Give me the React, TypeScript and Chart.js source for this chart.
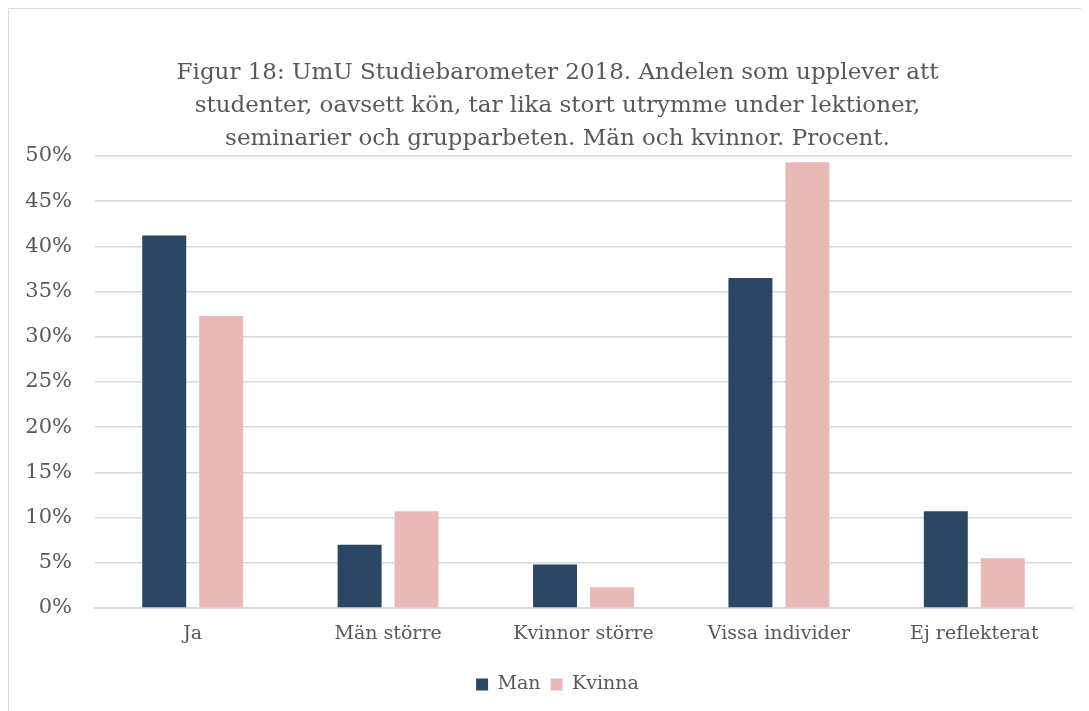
import React, { useEffect, useRef } from "react";
import { Chart, registerables } from "chart.js";

Chart.register(...registerables);

const categories = ["Ja", "Män större", "Kvinnor större", "Vissa individer", "Ej reflekterat"];
const manValues = [41.2, 7.0, 4.8, 36.5, 10.7];
const kvinnaValues = [32.3, 10.7, 2.3, 49.3, 5.5];
const titleLines = [
  "Figur 18: UmU Studiebarometer 2018. Andelen som upplever att",
  "studenter, oavsett kön, tar lika stort utrymme under lektioner,",
  "seminarier och grupparbeten. Män och kvinnor. Procent.",
];

const FONT = "'DejaVu Serif', 'Liberation Serif', serif";
const TEXT = "#595959";

export default function App() {
  const ref = useRef<HTMLCanvasElement | null>(null);

  useEffect(() => {
    document.body.style.overflow = "hidden";
    document.documentElement.style.overflow = "hidden";
    if (!ref.current) return;
    const chart = new Chart(ref.current, {
      type: "bar",
      data: {
        labels: categories,
        datasets: [
          {
            label: "Man",
            data: manValues,
            backgroundColor: "#2B4764",
            borderWidth: 0,
            categoryPercentage: 0.583,
            barPercentage: 0.772,
          },
          {
            label: "Kvinna",
            data: kvinnaValues,
            backgroundColor: "#E9B9B8",
            borderWidth: 0,
            categoryPercentage: 0.583,
            barPercentage: 0.772,
          },
        ],
      },
      options: {
        animation: false,
        responsive: false,
        maintainAspectRatio: false,
        layout: { padding: { left: 0, right: 0, top: 0, bottom: 23 } },
        plugins: {
          title: {
            display: true,
            text: titleLines,
            color: TEXT,
            font: { family: FONT, size: 23, weight: "normal", lineHeight: "33px" as any },
            padding: { top: 48, bottom: 0 },
          },
          legend: {
            position: "bottom",
            labels: {
              color: TEXT,
              font: { family: FONT, size: 19 },
              boxWidth: 12,
              boxHeight: 12,
              padding: 10,
            },
          },
          tooltip: { enabled: false },
        },
        scales: {
          x: {
            grid: { display: false, drawTicks: false },
            border: { display: true, color: "#d9d9d9", width: 2 },
            ticks: { color: TEXT, font: { family: FONT, size: 19 }, padding: 15 },
            afterFit: (scale: any) => {
              scale.height = 57;
            },
          },
          y: {
            min: 0,
            max: 50,
            grid: { color: "#d9d9d9", lineWidth: 1.5, drawTicks: false },
            border: { display: false },
            ticks: {
              stepSize: 5,
              color: TEXT,
              font: { family: FONT, size: 21 },
              padding: 23,
              callback: (v: any) => `${v}%`,
            },
            afterFit: (scale: any) => {
              scale.width = 86;
            },
          },
          yRight: {
            position: "right",
            min: 0,
            max: 50,
            grid: { display: false, drawTicks: false },
            border: { display: false },
            ticks: { display: false },
            afterFit: (scale: any) => {
              scale.width = 34;
            },
          },
        },
      },
    });
    return () => chart.destroy();
  }, []);

  return (
    <div style={{ width: 1081, height: 703, overflow: "hidden" }}>
      <div
        style={{
          width: 1098,
          height: 720,
          borderLeft: "1px solid #d9d9d9",
          borderTop: "1px solid #d9d9d9",
          boxSizing: "border-box",
          background: "#fff",
        }}
      >
        <canvas ref={ref} width={1097} height={718} style={{ display: "block" }} />
      </div>
    </div>
  );
}
